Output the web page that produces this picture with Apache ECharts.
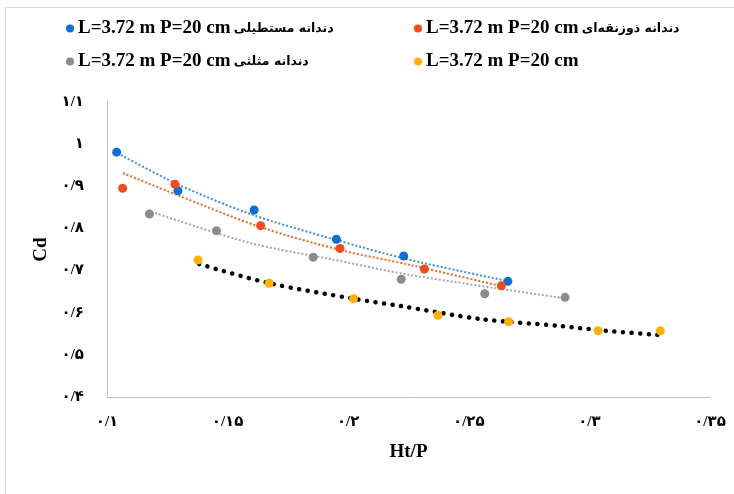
<!DOCTYPE html>
<html>
<head>
<meta charset="utf-8">
<script src="https://cdn.jsdelivr.net/npm/echarts@6/dist/echarts.min.js"></script>
<style>
  html, body { margin: 0; padding: 0; background: #fff; }
  #chart { width: 734px; height: 494px; }
</style>
</head>
<body>
<div id="chart"></div>
<script>
// نام سری‌ها
const caseLabel = 'L=3.72 m P=20 cm'
const toothNames = ['دندانه مستطیلی', 'دندانه ذوزنقه‌ای', 'دندانه مثلثی', '']
const seriesNames = toothNames.map(t => (caseLabel + ' ' + t).trim())
const seriesColors = ['#0B6FD6', '#F24A1A', '#8C8C8C', '#FFB000']
const trendColors = ['#3F8FE0', '#F26A1F', '#A6A6A6', '#000000']

// Ht/P , Cd
const rectX = [0.104, 0.1294, 0.161, 0.1951, 0.223, 0.2662]
const rectY = [0.981, 0.8895, 0.8437, 0.7742, 0.7346, 0.6745]
const trapX = [0.1065, 0.1282, 0.1637, 0.1966, 0.2316, 0.2635]
const trapY = [0.8952, 0.9047, 0.8065, 0.7523, 0.7037, 0.6641]
const triX = [0.1176, 0.1454, 0.1855, 0.222, 0.2566, 0.2899]
const triY = [0.8342, 0.7946, 0.7315, 0.6793, 0.6451, 0.6365]
const plainX = [0.1377, 0.1672, 0.2022, 0.2372, 0.2665, 0.3036, 0.3294]
const plainY = [0.7251, 0.6698, 0.6332, 0.5938, 0.5786, 0.5573, 0.5573]

// trend lines
const rectTrendX = [0.1058, 0.1291, 0.1594, 0.1951, 0.2258, 0.2661]
const rectTrendY = [0.9742, 0.9054, 0.8342, 0.7725, 0.7251, 0.6752]
const trapTrendX = [0.1066, 0.1291, 0.1635, 0.1968, 0.2258, 0.2632]
const trapTrendY = [0.9315, 0.8793, 0.8034, 0.7488, 0.7132, 0.6634]
const triTrendX = [0.1199, 0.1594, 0.1926, 0.2258, 0.289]
const triTrendY = [0.8366, 0.7654, 0.7274, 0.6895, 0.6349]
const plainTrendX = [0.1382, 0.1669, 0.203, 0.2217, 0.2549, 0.2881, 0.3035, 0.3288]
const plainTrendY = [0.7156, 0.6705, 0.6325, 0.6159, 0.585, 0.5684, 0.5589, 0.5471]

const xTicks = { min: 0.1, max: 0.35, interval: 0.05 }
const yTicks = { min: 0.4, max: 1.1, interval: 0.1 }

const faDigits = ['۰', '۱', '۲', '۳', '۴', '۵', '۶', '۷', '۸', '۹']
function toFa(v) {
  let s = String(+v.toFixed(2)).replace('.', '/')
  return s.replace(/[0-9]/g, d => faDigits[+d])
}
function zip(xs, ys) {
  return xs.map((x, i) => [x, ys[i]])
}

const points = [zip(rectX, rectY), zip(trapX, trapY), zip(triX, triY), zip(plainX, plainY)]
const trends = [zip(rectTrendX, rectTrendY), zip(trapTrendX, trapTrendY), zip(triTrendX, triTrendY), zip(plainTrendX, plainTrendY)]

const fontFam = '"Liberation Serif", "DejaVu Sans", serif'

let series = []
trends.forEach((d, i) => {
  const black = i === 3
  series.push({
    name: 'trend' + i,
    type: 'line',
    data: d,
    symbol: 'none',
    smooth: 0.3,
    silent: true,
    z: 2,
    lineStyle: black
      ? { color: trendColors[i], width: 4.5, type: [0.1, 8.5], cap: 'round' }
      : { color: trendColors[i], width: 2, type: [2, 2] }
  })
})
points.forEach((d, i) => {
  series.push({
    name: seriesNames[i],
    type: 'scatter',
    data: d,
    symbolSize: 9,
    z: 5,
    itemStyle: { color: seriesColors[i], opacity: 1 }
  })
})

// یک لجند برای هر سری
const legendPos = [[61, 14], [409, 14], [61, 47], [409, 47]]
const legends = seriesNames.map((n, i) => ({
  left: legendPos[i][0],
  top: legendPos[i][1],
  data: [n],
  itemWidth: 8,
  itemHeight: 8,
  icon: 'circle',
  itemGap: 0,
  formatter: function () {
    return '{a|' + caseLabel + '}' + (toothNames[i] ? ' {b|' + toothNames[i] + '}' : '')
  },
  textStyle: {
    padding: [0, 0, 0, -1],
    rich: {
      a: { fontFamily: fontFam, fontWeight: 'bold', fontSize: 19, color: '#000' },
      b: { fontFamily: '"DejaVu Sans", sans-serif', fontWeight: 'bold', fontSize: 12.5, color: '#000' }
    }
  }
}))

let myChart = echarts.init(document.getElementById('chart'))
myChart.setOption({
  backgroundColor: '#fff',
  animation: false,
  graphic: [{
    type: 'rect',
    shape: { x: 5.5, y: 7.5, width: 740, height: 500 },
    style: { fill: 'none', stroke: '#D9D9D9', lineWidth: 1 },
    silent: true
  }],
  legend: legends,
  grid: { left: 107, right: 24, top: 102, bottom: 97 },
  xAxis: {
    type: 'value',
    min: xTicks.min,
    max: xTicks.max,
    interval: xTicks.interval,
    name: 'Ht/P',
    nameLocation: 'middle',
    nameGap: 46,
    nameTextStyle: { fontFamily: fontFam, fontWeight: 'bold', fontSize: 19, color: '#000' },
    axisLine: { show: true, lineStyle: { color: '#BFBFBF', width: 1 } },
    axisTick: { show: false },
    splitLine: { show: false },
    axisLabel: {
      margin: 18,
      color: '#000',
      fontWeight: 'bold',
      fontSize: 15,
      fontFamily: fontFam,
      formatter: toFa
    }
  },
  yAxis: {
    type: 'value',
    min: yTicks.min,
    max: yTicks.max,
    interval: yTicks.interval,
    name: 'Cd',
    nameLocation: 'middle',
    nameGap: 36,
    nameRotate: 90,
    nameTextStyle: { fontFamily: fontFam, fontWeight: 'bold', fontSize: 19, color: '#000' },
    axisLine: { show: true, lineStyle: { color: '#BFBFBF', width: 1 } },
    axisTick: { show: false },
    splitLine: { show: false },
    axisLabel: {
      margin: 23,
      color: '#000',
      fontWeight: 'bold',
      fontSize: 15,
      fontFamily: fontFam,
      formatter: toFa
    }
  },
  series: series
})
</script>
</body>
</html>
